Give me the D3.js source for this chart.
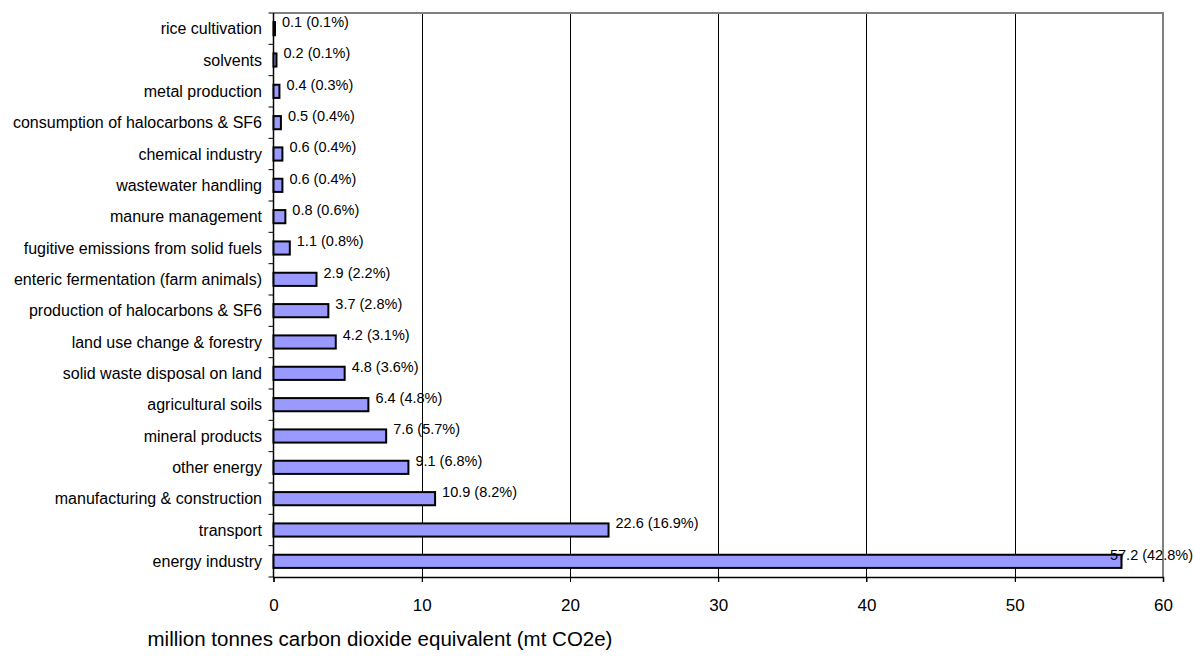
<!DOCTYPE html>
<html>
<head>
<meta charset="utf-8">
<script src="https://cdn.jsdelivr.net/npm/d3@7"></script>
<style>
  html, body { margin: 0; padding: 0; background: #fff; }
  svg { display: block; font-family: "Liberation Sans", Arial, sans-serif; }
</style>
</head>
<body>
<svg id="chart" width="1194" height="656"></svg>
<script>
// Greenhouse gas emissions by source, top to bottom
const categories = [
  "rice cultivation",
  "solvents",
  "metal production",
  "consumption of halocarbons & SF6",
  "chemical industry",
  "wastewater handling",
  "manure management",
  "fugitive emissions from solid fuels",
  "enteric fermentation (farm animals)",
  "production of halocarbons & SF6",
  "land use change & forestry",
  "solid waste disposal on land",
  "agricultural soils",
  "mineral products",
  "other energy",
  "manufacturing & construction",
  "transport",
  "energy industry"
];
const values = [0.1, 0.2, 0.4, 0.5, 0.6, 0.6, 0.8, 1.1, 2.9, 3.7, 4.2, 4.8, 6.4, 7.6, 9.1, 10.9, 22.6, 57.2];
const shares = ["0.1%", "0.1%", "0.3%", "0.4%", "0.4%", "0.4%", "0.6%", "0.8%", "2.2%", "2.8%", "3.1%", "3.6%", "4.8%", "5.7%", "6.8%", "8.2%", "16.9%", "42.8%"];
const xTicks = [0, 10, 20, 30, 40, 50, 60];
const xTitle = "million tonnes carbon dioxide equivalent (mt CO2e)";

const svg = d3.select("#chart");
const W = 1194;
const plotLeft = 273.5, plotRight = 1163, plotTop = 13, plotBottom = 577;

const x = d3.scaleLinear().domain([0, 60]).range([plotLeft, plotRight]);
const y = d3.scaleBand().domain(categories).range([plotTop, plotBottom]).paddingInner(0.58).paddingOuter(0.29);
const step = y.step();

// vertical gridlines with ticks below the axis
svg.append("g").selectAll("line")
  .data(xTicks.filter(d => d > 0 && d < 60))
  .join("line")
  .attr("x1", d => Math.round(x(d)) + 0.5).attr("x2", d => Math.round(x(d)) + 0.5)
  .attr("y1", plotTop).attr("y2", plotBottom + 5)
  .attr("stroke", "#000").attr("stroke-width", 1);

// plot frame: gray top and right edges
svg.append("path")
  .attr("d", `M${plotLeft},${plotTop}H${plotRight}V${plotBottom}`)
  .attr("fill", "none").attr("stroke", "#808080").attr("stroke-width", 2);

// x axis
const xAxis = svg.append("g")
  .attr("transform", `translate(0,${plotBottom})`)
  .call(d3.axisBottom(x).tickValues(xTicks).tickSize(5).tickPadding(17).tickFormat(d3.format("d")));
xAxis.select(".domain").attr("stroke", "#000").attr("stroke-width", 1.5);
xAxis.selectAll(".tick line").attr("stroke", "#000");
xAxis.selectAll("text").attr("font-size", 17).attr("fill", "#000").attr("font-family", "Liberation Sans, Arial, sans-serif");

// y axis: ticks at category boundaries
const yg = svg.append("g");
yg.append("line").attr("x1", plotLeft).attr("x2", plotLeft).attr("y1", plotTop).attr("y2", plotBottom)
  .attr("stroke", "#000").attr("stroke-width", 1.5);
yg.selectAll("line.tk")
  .data(d3.range(categories.length + 1))
  .join("line").attr("class", "tk")
  .attr("x1", plotLeft - 5).attr("x2", plotLeft)
  .attr("y1", i => plotTop + i * step).attr("y2", i => plotTop + i * step)
  .attr("stroke", "#000");
yg.selectAll("text")
  .data(categories)
  .join("text")
  .attr("x", 262)
  .attr("y", d => y(d) + y.bandwidth() / 2)
  .attr("dy", "0.35em")
  .attr("text-anchor", "end")
  .attr("font-size", 16)
  .attr("fill", "#000")
  .text(d => d);

// bars
svg.append("g").selectAll("rect")
  .data(values)
  .join("rect")
  .attr("x", x(0))
  .attr("y", (d, i) => y(categories[i]))
  .attr("width", d => x(d) - x(0))
  .attr("height", y.bandwidth())
  .attr("fill", "#9999FF")
  .attr("stroke", "#000")
  .attr("stroke-width", 2);

// value labels, pulled left when they would run past the right edge
svg.append("g").selectAll("text")
  .data(values)
  .join("text")
  .attr("y", (d, i) => y(categories[i]))
  .attr("dy", "0.35em")
  .attr("font-size", 14.5)
  .attr("fill", "#000")
  .text((d, i) => `${d} (${shares[i]})`)
  .attr("x", function (d) {
    const w = this.getComputedTextLength();
    return Math.min(x(d) + 7, W - 1 - w);
  });

// x axis title
svg.append("text")
  .attr("x", 380).attr("y", 639).attr("dy", "0.35em")
  .attr("text-anchor", "middle")
  .attr("font-size", 20.5)
  .attr("fill", "#000")
  .text(xTitle);
</script>
</body>
</html>
